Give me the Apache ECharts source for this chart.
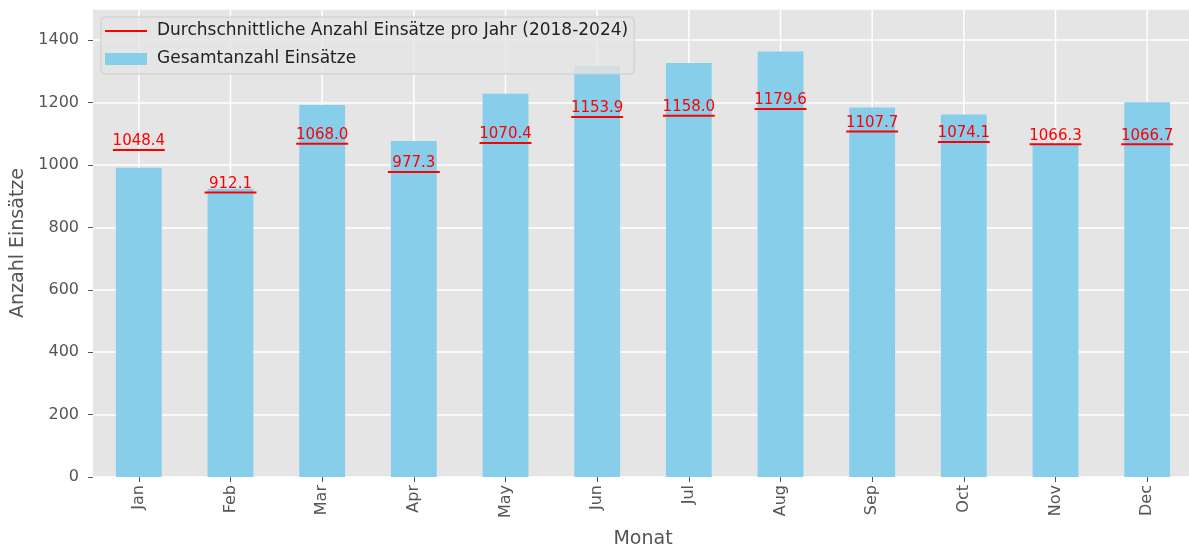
<!DOCTYPE html>
<html>
<head>
<meta charset="utf-8">
<script src="https://cdn.jsdelivr.net/npm/echarts@6/dist/echarts.min.js"></script>
<style>
  html, body { margin: 0; padding: 0; background: #fff; }
  #chart { width: 1189px; height: 553px; }
</style>
</head>
<body>
<div id="chart"></div>
<script>
// Monate (x-Achse)
const months = ['Jan', 'Feb', 'Mar', 'Apr', 'May', 'Jun', 'Jul', 'Aug', 'Sep', 'Oct', 'Nov', 'Dec']
// Gesamtanzahl Einsätze pro Monat (aus dem Bild geschätzt)
const totals = [991, 924, 1192, 1077, 1228, 1317, 1327, 1364, 1184, 1162, 1068, 1201]
// Durchschnitt pro Jahr (2018-2024), Werte aus den Beschriftungen
const averages = [1048.4, 912.1, 1068.0, 977.3, 1070.4, 1153.9, 1158.0, 1179.6, 1107.7, 1074.1, 1066.3, 1066.7]

const avgName = 'Durchschnittliche Anzahl Einsätze pro Jahr (2018-2024)'
const barName = 'Gesamtanzahl Einsätze'
const font = 'DejaVu Sans'

const chart = echarts.init(document.getElementById('chart'))

// senkrechte Gitterlinien in der Mitte jeder Kategorie (wie bei matplotlib)
const renderGridLine = (params, api) => {
  const cs = params.coordSys
  const x = api.coord([api.value(0), 0])[0]
  return {
    type: 'line',
    shape: { x1: x, y1: cs.y, x2: x, y2: cs.y + cs.height },
    style: { stroke: '#ffffff', lineWidth: 1.5 },
    silent: true,
  }
}

// rote Durchschnittslinie mit Wert darüber
const renderAverage = (params, api) => {
  const p = api.coord([api.value(0), api.value(1)])
  const w = api.size([1, 0])[0]
  return {
    type: 'group',
    children: [
      {
        type: 'line',
        shape: { x1: p[0] - w * 0.283, y1: p[1], x2: p[0] + w * 0.283, y2: p[1] },
        style: { stroke: '#ff0000', lineWidth: 2 },
      },
      {
        type: 'text',
        style: {
          x: p[0],
          y: p[1] - 1,
          text: api.value(1).toFixed(1),
          fill: '#ff0000',
          font: '15px "DejaVu Sans"',
          align: 'center',
          verticalAlign: 'bottom',
        },
      },
    ],
  }
}

const option = {
  backgroundColor: '#ffffff',
  animation: false,
  textStyle: { fontFamily: font },
  grid: {
    left: 93,
    right: -4,
    top: 9,
    bottom: 76,
    outerBoundsMode: 'none',
    show: true,
    backgroundColor: '#e5e5e5',
    borderWidth: 0,
  },
  legend: {
    orient: 'vertical',
    left: 101,
    top: 17,
    padding: [4, 6, 5, 4],
    itemWidth: 42,
    itemHeight: 12,
    itemGap: 8,
    symbolKeepAspect: true,
    backgroundColor: 'rgba(229,229,229,0.8)',
    borderColor: '#cccccc',
    borderWidth: 1,
    borderRadius: 4,
    textStyle: { fontFamily: font, fontSize: 17, color: '#222222', lineHeight: 20, padding: [0, 0, 0, 5] },
    data: [
      { name: avgName, icon: 'path://M0,0H42V2H0Z' },
      { name: barName, icon: 'rect' },
    ],
  },
  xAxis: {
    type: 'category',
    data: months,
    name: 'Monat',
    nameLocation: 'middle',
    nameGap: 53,
    nameTextStyle: { fontFamily: font, fontSize: 19, color: '#555555' },
    axisLine: { show: false },
    axisTick: { show: true, alignWithLabel: true, length: 5, lineStyle: { color: '#555555' } },
    axisLabel: { rotate: 90, margin: 8, fontFamily: font, fontSize: 16, color: '#555555' },
    splitLine: { show: false },
  },
  yAxis: {
    type: 'value',
    min: 0,
    max: 1500,
    interval: 200,
    name: 'Anzahl Einsätze',
    nameLocation: 'middle',
    nameGap: 61,
    nameTextStyle: { fontFamily: font, fontSize: 19, color: '#555555' },
    axisLine: { show: false },
    axisTick: { show: true, length: 5, lineStyle: { color: '#555555' } },
    axisLabel: {
      margin: 14,
      fontFamily: font,
      fontSize: 16,
      color: '#555555',
      showMaxLabel: false,
      formatter: v => String(v),
    },
    splitLine: { show: true, lineStyle: { color: '#ffffff', width: 1.5 } },
  },
  series: [
    {
      name: 'grid-x',
      type: 'custom',
      z: 1,
      silent: true,
      renderItem: renderGridLine,
      data: months.map((m, i) => [i]),
      encode: { x: 0 },
    },
    {
      name: barName,
      type: 'bar',
      z: 2,
      data: totals,
      barWidth: '50%',
      itemStyle: { color: '#87ceeb' },
    },
    {
      name: avgName,
      type: 'custom',
      z: 3,
      renderItem: renderAverage,
      itemStyle: { color: '#ff0000' },
      data: averages.map((v, i) => [i, v]),
      encode: { x: 0, y: 1 },
    },
  ],
}

chart.setOption(option)
</script>
</body>
</html>
